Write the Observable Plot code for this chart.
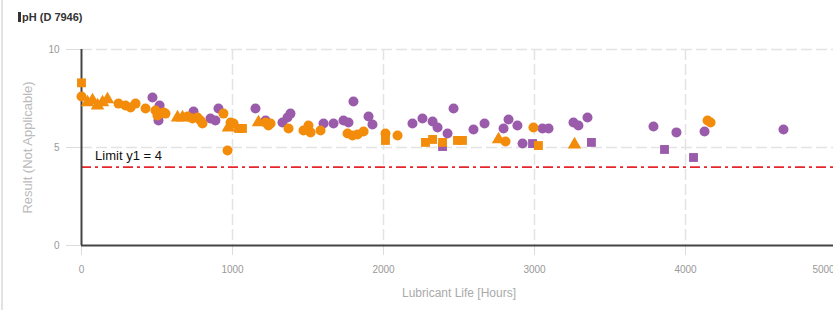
<!DOCTYPE html>
<html>
<head>
<meta charset="utf-8">
<script src="https://cdn.jsdelivr.net/npm/d3@7"></script>
<script src="https://cdn.jsdelivr.net/npm/@observablehq/plot@0.6"></script>
<style>
  html, body { margin: 0; padding: 0; background: #fff; }
  body { width: 833px; height: 310px; overflow: hidden; position: relative; font-family: "Liberation Sans", Arial, sans-serif; }
  #card { position: absolute; left: 1px; top: 0; width: 900px; height: 310px; border-left: 2px solid #e2e2e2; }
  #title { position: absolute; left: 15px; top: 10px; font-size: 11px; font-weight: bold; color: #333; line-height: 14px; white-space: nowrap; }
  #title .bar { display: inline-block; width: 3px; height: 10px; background: #333; margin-right: 1px; vertical-align: -1px; }
  #chart { position: absolute; left: -3px; top: 30px; }
</style>
</head>
<body>
<div id="card">
  <div id="title"><span class="bar"></span>pH (D 7946)</div>
  <div id="chart"></div>
</div>
<script>
// ---- Data (hours, pH) ----
const orangeCircles = [
  [0,7.6],[245,7.24],[291,7.14],[325,7.04],[358,7.24],[424,6.99],[490,6.89],[503,6.63],
  [543,6.79],[556,6.73],[702,6.58],[735,6.48],[768,6.53],[788,6.38],[801,6.22],[940,6.73],
  [987,6.28],[1007,6.22],[967,4.85],[1219,6.28],[1238,6.12],[1252,6.22],[1371,5.97],
  [1470,5.87],[1503,6.12],[1517,5.77],[1583,5.87],[1762,5.71],[1795,5.61],[1828,5.66],
  [1868,5.82],[2013,5.71],[2093,5.61],[2808,5.31],[2993,6.02],[4146,6.38],[4166,6.28]
];
const orangeSquares = [
  [0,8.3],[1040,5.97],[1066,5.97],[2013,5.36],[2278,5.26],[2325,5.41],[2391,5.26],
  [2490,5.36],[2523,5.36],[3026,5.1]
];
const orangeTriangles = [
  [40,7.3],[73,7.4],[106,7.14],[139,7.3],[172,7.45],[636,6.53],[669,6.53],[973,6.02],
  [1172,6.28],[2762,5.41],[3265,5.15]
];
const purpleCircles = [
  [470,7.55],[517,7.14],[510,6.38],[742,6.84],[854,6.48],[887,6.38],[907,6.99],[1152,6.99],
  [1219,6.38],[1331,6.28],[1364,6.53],[1384,6.73],[1603,6.22],[1669,6.22],[1735,6.38],
  [1768,6.28],[1801,7.35],[1901,6.58],[1927,6.17],[2192,6.22],[2258,6.48],[2325,6.33],
  [2358,6.02],[2424,5.71],[2464,6.99],[2596,5.92],[2669,6.22],[2795,5.97],[2828,6.43],
  [2887,6.12],[2921,5.2],[3053,5.97],[3093,5.97],[3258,6.28],[3291,6.12],[3351,6.53],
  [3788,6.07],[3940,5.77],[4126,5.82],[4649,5.92]
];
const purpleSquares = [
  [2391,5.05],[2987,5.2],[3377,5.26],[3861,4.9],[4053,4.49]
];
const xTicks = [0, 1000, 2000, 3000, 4000, 5000];
const yTicks = [0, 5, 10];
const limitValue = 4;
const limitLabel = "Limit y1 = 4";
const xLabel = "Lubricant Life [Hours]";
const yLabel = "Result (Not Applicable)";

const groups = [
  {data: purpleCircles, series: "B", shape: "circle"},
  {data: purpleSquares, series: "B", shape: "square"},
  {data: orangeTriangles, series: "A", shape: "triangle"},
  {data: orangeSquares, series: "A", shape: "square"},
  {data: orangeCircles, series: "A", shape: "circle"}
];
const points = groups.flatMap(g => g.data.map(([h, v]) => ({hours: h, ph: v, series: g.series, shape: g.shape})));
const lastX = xTicks[xTicks.length - 1];

const chart = Plot.plot({
  width: 873,
  height: 280,
  marginLeft: 81,
  marginRight: 37,
  marginTop: 19,
  marginBottom: 65,
  style: {fontFamily: "'Liberation Sans', Arial, sans-serif", background: "transparent"},
  x: {domain: [0, 5000]},
  y: {domain: [0, 10]},
  color: {type: "ordinal", domain: ["A", "B"], range: ["#f28c0a", "#9b5bab"]},
  symbol: {domain: ["circle", "triangle", "square"], range: ["circle", "triangle", "square"]},
  marks: [
    Plot.gridX(xTicks.slice(1), {stroke: "#e3e3e3", strokeOpacity: 1, strokeDasharray: "11,4", strokeWidth: 1.5}),
    Plot.gridY(yTicks.slice(1), {stroke: "#e3e3e3", strokeOpacity: 1, strokeDasharray: "11,4", strokeWidth: 1.5}),
    Plot.axisX(xTicks, {tickSize: 10, stroke: "#dcdcdc", text: null, label: null}),
    Plot.axisX(xTicks.slice(0, -1), {tickSize: 0, tickPadding: 20, fill: "#999", fontSize: 10, label: null, tickFormat: d => String(d)}),
    Plot.axisX([lastX], {tickSize: 0, tickPadding: 20, dx: -13, fill: "#999", fontSize: 10, label: null, tickFormat: d => String(d)}),
    Plot.axisY(yTicks, {tickSize: 15, tickPadding: 7, stroke: "#dcdcdc", fill: "#999", fontSize: 10, label: null, tickFormat: d => String(d)}),
    Plot.text([xLabel], {frameAnchor: "bottom", dy: 51, fill: "#aaa", fontSize: 12}),
    Plot.text([yLabel], {frameAnchor: "left", dx: -54, rotate: -90, textAnchor: "middle", fill: "#bbb", fontSize: 13}),
    Plot.ruleY([limitValue], {stroke: "#e6262c", strokeWidth: 1.6, strokeDasharray: "10,4,3,4"}),
    Plot.text([limitLabel], {x: 90, y: limitValue, dy: -11, textAnchor: "start", fill: "#111", fontSize: 13}),
    Plot.ruleX([0], {stroke: "#444", strokeWidth: 2}),
    Plot.ruleY([0], {stroke: "#444", strokeWidth: 2}),
    Plot.dot(points, {x: "hours", y: "ph", fill: "series", symbol: "shape", r: 5})
  ]
});
document.getElementById("chart").appendChild(chart);
</script>
</body>
</html>
